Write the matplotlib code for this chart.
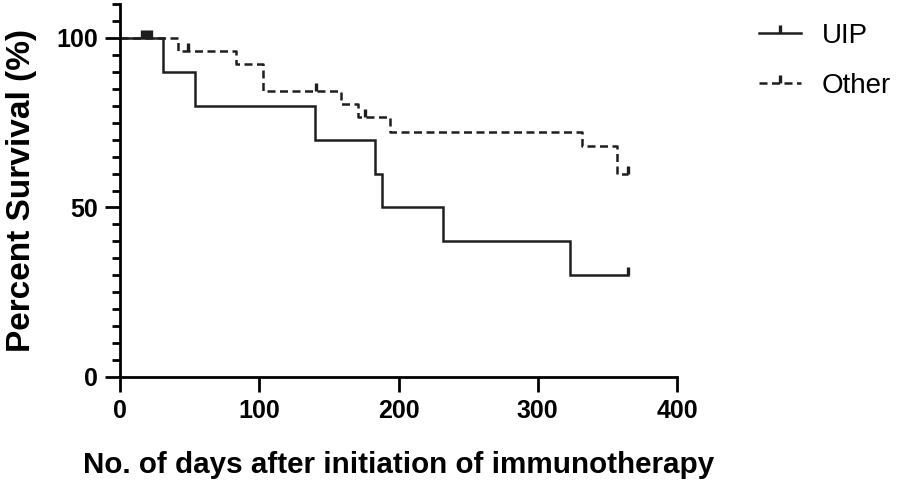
import matplotlib
matplotlib.use("Agg")
import matplotlib.pyplot as plt
from matplotlib.lines import Line2D

plt.rcParams['font.family'] = ['Liberation Sans', 'DejaVu Sans']

# --- data ---
uip_days = [0, 31, 54, 140, 183, 188, 232, 323, 365]
uip_surv = [100, 90, 80, 70, 60, 50, 40, 30, 30]
uip_censor_days = [16, 18, 20, 22, 365]
uip_censor_surv = [100, 100, 100, 100, 30]

other_days = [0, 42, 83, 103, 159, 171, 194, 332, 357, 365]
other_surv = [100, 96, 92.4, 84.4, 80.6, 76.6, 72.2, 68.1, 59.8, 59.8]
other_censor_days = [49, 141, 176, 365]
other_censor_surv = [96, 84.4, 76.6, 59.8]

x_ticks = [0, 100, 200, 300, 400]
y_ticks = [0, 50, 100]

col = '#1e1e1e'

fig = plt.figure(figsize=(9, 4.8), dpi=100)
ax = fig.add_axes([120/900, 1-377/480, 557/900, 373/480])

ax.step(uip_days, uip_surv, where='post', color=col, lw=1.8, solid_joinstyle='miter')
ax.plot(uip_censor_days, uip_censor_surv, ls='none', marker=2, ms=6, mew=2.4, color=col)

ax.step(other_days, other_surv, where='post', color=col, lw=1.8, ls=(0, (3.2, 1.8)))
ax.plot(other_censor_days, other_censor_surv, ls='none', marker=2, ms=6, mew=2.4, color=col)

ax.set_xlim(0, 400)
ax.set_ylim(0, 110)
ax.set_xticks(x_ticks)
ax.set_yticks(y_ticks)
ax.set_yticks(list(range(0, 111, 5)), minor=True)
ax.spines['top'].set_visible(False)
ax.spines['right'].set_visible(False)
for s in ['left', 'bottom']:
    ax.spines[s].set_linewidth(2.0)
    ax.spines[s].set_color('black')
ax.tick_params(axis='both', which='major', length=11, width=2.0, color='black',
               labelsize=18, pad=5)
ax.tick_params(axis='y', which='minor', length=5.5, width=2.0, color='black')
for lab in ax.get_xticklabels() + ax.get_yticklabels():
    lab.set_fontweight('bold')

ax.set_xlabel('No. of days after initiation of immunotherapy', fontsize=21.3, fontweight='bold', labelpad=20)
ax.set_ylabel('Percent Survival (%)', fontsize=24, fontweight='bold', labelpad=14)

handles = [
    Line2D([], [], color=col, lw=1.8, marker=2, ms=6, mew=2.4),
    Line2D([], [], color=col, lw=1.8, ls=(0, (3.2, 1.8)), marker=2, ms=6, mew=2.4),
]
fig.legend(handles, ['UIP', 'Other'], loc='upper left', bbox_to_anchor=(748/900, 1-12/480),
           frameon=False, fontsize=20, handlelength=1.5, handletextpad=0.75,
           labelspacing=0.85, borderaxespad=0)

fig.savefig('out.png', dpi=100)
